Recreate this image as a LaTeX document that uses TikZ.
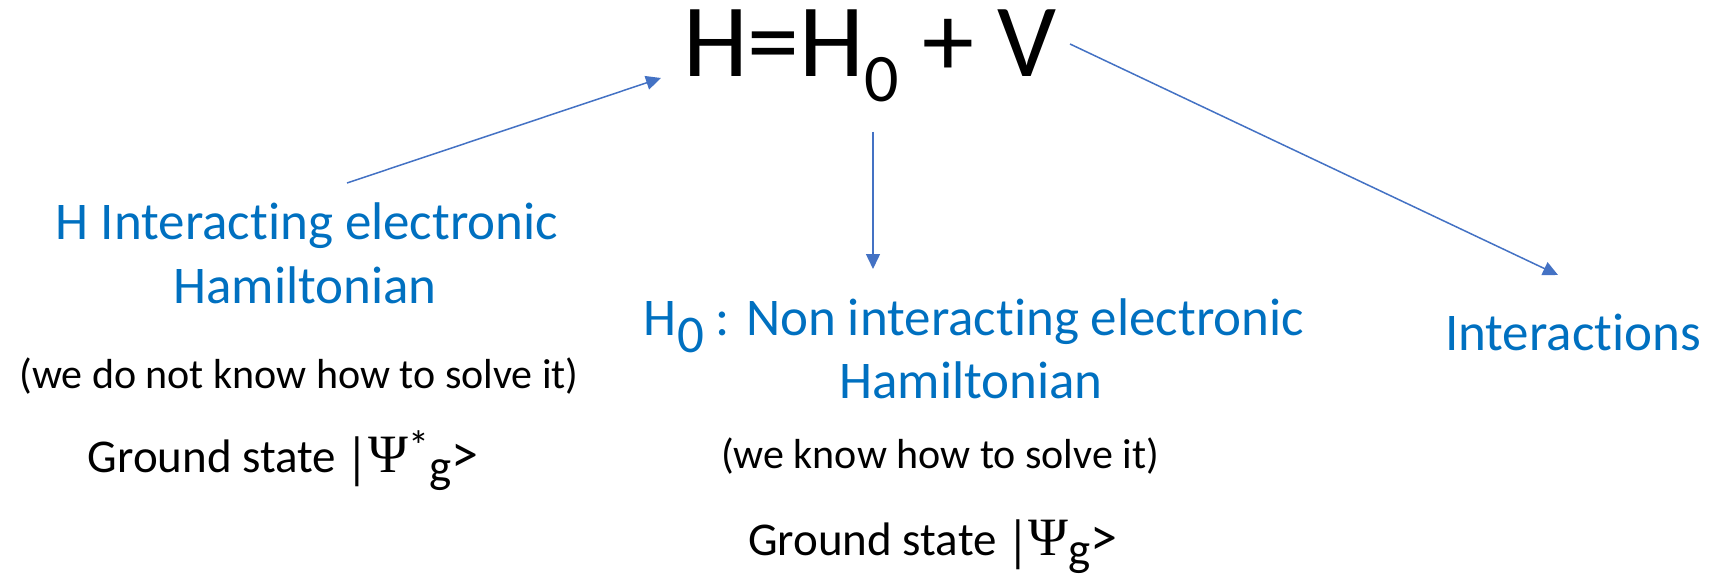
\documentclass[tikz,border=0pt]{standalone}
\usepackage{fontspec}
\setmainfont{Carlito}[Ligatures=NoCommon]
\newfontfamily\psifont{Liberation Serif}
\usepackage{xcolor}
\usetikzlibrary{arrows.meta, positioning}
\definecolor{txtblue}{HTML}{0070C0}
\definecolor{lineblue}{HTML}{4472C4}
\newcommand{\bigpsi}{{\psifont\fontsize{54}{58}\selectfont\char"03A8}}
\newcommand{\ket}{{\fontsize{54}{58}\selectfont >}}
\newcommand{\vbar}{\scalebox{1}[1.2]{|}}

\begin{document}
\begin{tikzpicture}[x=1pt, y=-1pt, >={Triangle[length=15pt, width=14pt]},
        title/.style={anchor=base, inner sep=0pt, font=\fontsize{104}{110}\selectfont},
        bluetxt/.style={anchor=base, inner sep=0pt, text=txtblue, font=\fontsize{53}{60}\selectfont},
        note/.style={anchor=base, inner sep=0pt, font=\fontsize{42}{48}\selectfont},
        gstate/.style={anchor=base, inner sep=0pt, font=\fontsize{47}{52}\selectfont},
        conn/.style={->, draw=lineblue, fill=lineblue, line width=1.5pt}]
        \useasboundingbox (0,0) rectangle (1721,580);

        \node (ham) [title] at (870,77) {H=H\raisebox{-25pt}{\fontsize{68}{72}\selectfont 0} + V};

        \node (lt1) [bluetxt] at (307,240) {H Interacting electronic};
        \node (lt2) [bluetxt] at (305,303) {Hamiltonian};
        \node (lt3) [note] at (299,388) {(we do not know how to solve it)};
        \node (lt4) [gstate] at (283,472) {Ground state \raisebox{-5pt}{\vbar}\bigpsi\raisebox{12pt}{\fontsize{42}{44}\selectfont *}\raisebox{-10pt}{g}\ket};

        \node (mt1) [bluetxt] at (974,335) {H\raisebox{-17pt}{0} : Non interacting electronic};
        \node (mt2) [bluetxt] at (971,398) {Hamiltonian};
        \node (mt3) [note] at (940,468) {(we know how to solve it)};
        \node (mt4) [gstate] at (933,555) {Ground state \raisebox{-5pt}{\vbar}\bigpsi\raisebox{-10pt}{g}\ket};

        \node (rt) [bluetxt] at (1573,350) {Interactions};

        % arrow ends
        \coordinate (a1s) at (347,183);
        \coordinate (a1e) at (661,78);
        \coordinate (a2s) at (873,132);
        \coordinate (a2e) at (873,269);
        \coordinate (a3s) at (1070,44);
        \coordinate (a3e) at (1558,275);

        \draw[conn] (a1s) -- (a1e);
        \draw[conn] (a2s) -- (a2e);
        \draw[conn] (a3s) -- (a3e);
    \end{tikzpicture}
\end{document}
